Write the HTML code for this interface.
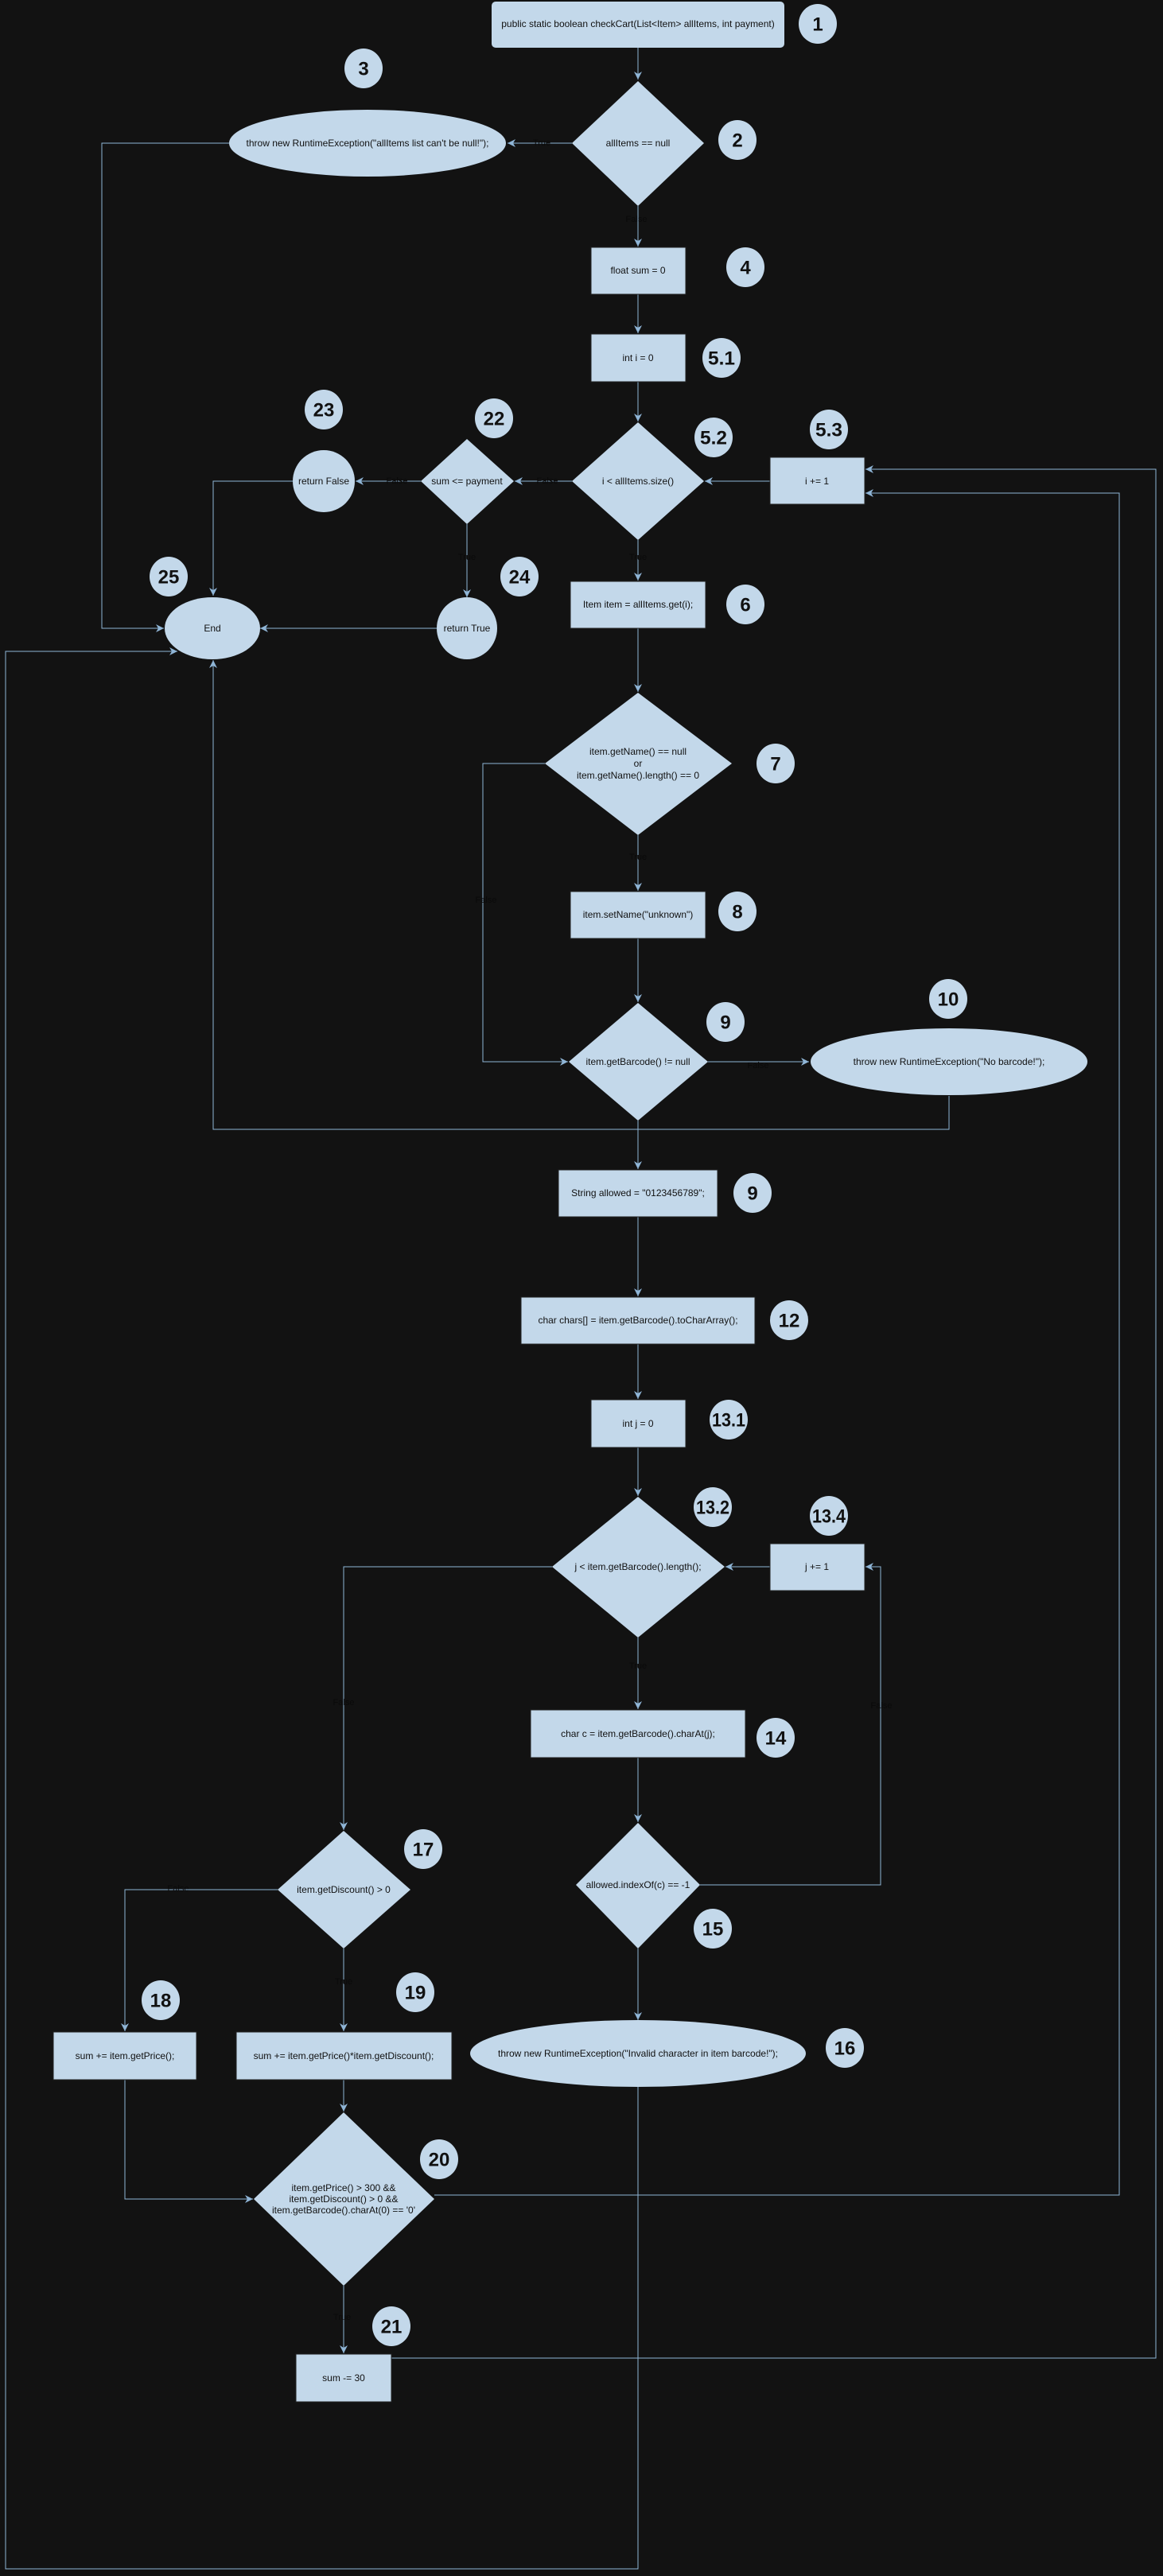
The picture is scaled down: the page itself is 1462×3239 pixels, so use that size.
<!DOCTYPE html>
<html><head><meta charset="utf-8"><style>
html,body{margin:0;padding:0;background:#121212;}
svg{display:block;}
text{font-family:"Liberation Sans",Arial,sans-serif;fill:#111;}
.t{font-size:12px;text-anchor:middle;dominant-baseline:central;}
.n{font-size:24px;font-weight:bold;text-anchor:middle;dominant-baseline:central;}
.l{font-size:11px;text-anchor:middle;dominant-baseline:central;fill:#0a0a0a;}
.s{fill:#c3d8ea;stroke:#222;stroke-width:1;}
.c{fill:#c3d8ea;}
.e{stroke:#8fb5d6;stroke-width:1;fill:none;marker-end:url(#a);}
</style></head><body>
<svg width="1462" height="3239" viewBox="0 0 1462 3239" xmlns="http://www.w3.org/2000/svg">
<defs><marker id="a" markerWidth="12" markerHeight="12" refX="10" refY="5" orient="auto" markerUnits="userSpaceOnUse"><path d="M0,0 L10,5 L0,10 L3,5 Z" fill="#8fb5d6"/></marker></defs>
<rect width="1462" height="3239" fill="#121212"/>

<!-- edges -->
<path class="e" d="M802,60 V100"/>
<path class="e" d="M719,180 H638"/>
<path class="e" d="M288,180 H128 V790 H206"/>
<path class="e" d="M802,259 V310"/>
<path class="e" d="M802,370 V419"/>
<path class="e" d="M802,480 V530"/>
<path class="e" d="M968,605 H886"/>
<path class="e" d="M719,605 H647"/>
<path class="e" d="M529,605 H447"/>
<path class="e" d="M368,605 H268 V749"/>
<path class="e" d="M587,659 V751"/>
<path class="e" d="M549,790 H327"/>
<path class="e" d="M802,679 V730"/>
<path class="e" d="M802,790 V870"/>
<path class="e" d="M802,1050 V1120"/>
<path class="e" d="M685,960 H607 V1335 H714"/>
<path class="e" d="M802,1180 V1260"/>
<path class="e" d="M890,1335 H1017"/>
<path class="e" d="M1193,1378 V1420 H268 V830"/>
<path class="e" d="M802,1409 V1470"/>
<path class="e" d="M802,1530 V1630"/>
<path class="e" d="M802,1690 V1759"/>
<path class="e" d="M802,1820 V1881"/>
<path class="e" d="M968,1970 H912"/>
<path class="e" d="M694,1970 H432 V2301"/>
<path class="e" d="M802,2059 V2149"/>
<path class="e" d="M802,2210 V2291"/>
<path class="e" d="M880,2370 H1107 V1970 H1088"/>
<path class="e" d="M802,2450 V2540"/>
<path class="e" d="M349,2376 H157 V2554"/>
<path class="e" d="M432,2450 V2554"/>
<path class="e" d="M432,2615 V2655"/>
<path class="e" d="M157,2615 V2765 H318"/>
<path class="e" d="M546,2760 H1407 V620 H1088"/>
<path class="e" d="M432,2874 V2959"/>
<path class="e" d="M492,2965 H1453 V590 H1088"/>
<path class="e" d="M802,2624 V3230 H7 V819 H223"/>

<!-- labels -->
<text class="l" x="681" y="180">True</text>
<text class="l" x="800" y="276">False</text>
<text class="l" x="688" y="605">False</text>
<text class="l" x="499" y="605">False</text>
<text class="l" x="587" y="701">True</text>
<text class="l" x="802" y="701">True</text>
<text class="l" x="802" y="1078">True</text>
<text class="l" x="611" y="1132">False</text>
<text class="l" x="953" y="1340">False</text>
<text class="l" x="802" y="2095">True</text>
<text class="l" x="432" y="2141">False</text>
<text class="l" x="1108" y="2145">False</text>
<text class="l" x="224" y="2375">False</text>
<text class="l" x="432" y="2492">True</text>
<text class="l" x="430" y="2914">True</text>

<!-- nodes -->
<rect class="c" x="618" y="2" width="368" height="58" rx="5"/>
<text class="t" x="802" y="30">public static boolean checkCart(List&lt;Item&gt; allItems, int payment)</text>

<polygon class="c" points="802,102 885,180 802,259 719,180"/>
<text class="t" x="802" y="180">allItems == null</text>
<ellipse class="c" cx="462" cy="180" rx="174" ry="42"/>
<text class="t" x="462" y="180">throw new RuntimeException("allItems list can't be null!");</text>

<rect class="s" x="743" y="311" width="119" height="59"/>
<text class="t" x="802" y="340">float sum = 0</text>
<rect class="s" x="743" y="420" width="119" height="60"/>
<text class="t" x="802" y="450">int i = 0</text>

<polygon class="c" points="802,531 885,605 802,679 719,605"/>
<text class="t" x="802" y="605">i &lt; allItems.size()</text>
<rect class="s" x="968" y="575" width="119" height="59"/>
<text class="t" x="1027" y="605">i += 1</text>
<polygon class="c" points="587,552 646,605 587,659 529,605"/>
<text class="t" x="587" y="605">sum &lt;= payment</text>
<ellipse class="c" cx="407" cy="605" rx="39" ry="39"/>
<text class="t" x="407" y="605">return False</text>
<ellipse class="c" cx="267" cy="790" rx="60" ry="39"/>
<text class="t" x="267" y="790">End</text>
<ellipse class="c" cx="587" cy="790" rx="38" ry="39"/>
<text class="t" x="587" y="790">return True</text>

<rect class="s" x="717" y="731" width="170" height="59"/>
<text class="t" x="802" y="760">Item item = allItems.get(i);</text>

<polygon class="c" points="802,871 920,960 802,1050 685,960"/>
<text class="t" x="802" y="945">item.getName() == null</text>
<text class="t" x="802" y="960">or</text>
<text class="t" x="802" y="975">item.getName().length() == 0</text>

<rect class="s" x="717" y="1121" width="170" height="59"/>
<text class="t" x="802" y="1150">item.setName("unknown")</text>

<polygon class="c" points="802,1261 890,1335 802,1409 715,1335"/>
<text class="t" x="802" y="1335">item.getBarcode() != null</text>
<ellipse class="c" cx="1193" cy="1335" rx="174" ry="42"/>
<text class="t" x="1193" y="1335">throw new RuntimeException("No barcode!");</text>

<rect class="s" x="702" y="1471" width="200" height="59"/>
<text class="t" x="802" y="1500">String allowed = "0123456789";</text>
<rect class="s" x="655" y="1631" width="294" height="59"/>
<text class="t" x="802" y="1660">char chars[] = item.getBarcode().toCharArray();</text>
<rect class="s" x="743" y="1760" width="119" height="60"/>
<text class="t" x="802" y="1790">int j = 0</text>

<polygon class="c" points="802,1882 911,1970 802,2059 694,1970"/>
<text class="t" x="802" y="1970">j &lt; item.getBarcode().length();</text>
<rect class="s" x="968" y="1941" width="119" height="59"/>
<text class="t" x="1027" y="1970">j += 1</text>

<rect class="s" x="667" y="2150" width="270" height="60"/>
<text class="t" x="802" y="2180">char c = item.getBarcode().charAt(j);</text>

<polygon class="c" points="802,2292 880,2370 802,2450 724,2370"/>
<text class="t" x="802" y="2370">allowed.indexOf(c) == -1</text>

<polygon class="c" points="432,2302 516,2376 432,2450 349,2376"/>
<text class="t" x="432" y="2376">item.getDiscount() &gt; 0</text>

<rect class="s" x="67" y="2555" width="180" height="60"/>
<text class="t" x="157" y="2585">sum += item.getPrice();</text>
<rect class="s" x="297" y="2555" width="271" height="60"/>
<text class="t" x="432" y="2585">sum += item.getPrice()*item.getDiscount();</text>
<ellipse class="c" cx="802" cy="2582" rx="211" ry="42"/>
<text class="t" x="802" y="2582">throw new RuntimeException("Invalid character in item barcode!");</text>

<polygon class="c" points="432,2656 546,2765 432,2874 319,2765"/>
<text class="t" x="432" y="2751">item.getPrice() &gt; 300 &amp;&amp;</text>
<text class="t" x="432" y="2765">item.getDiscount() &gt; 0 &amp;&amp;</text>
<text class="t" x="432" y="2779">item.getBarcode().charAt(0) == '0'</text>

<rect class="s" x="372" y="2960" width="120" height="60"/>
<text class="t" x="432" y="2990">sum -= 30</text>

<!-- number circles -->
<g>
<ellipse class="c" cx="1028" cy="30" rx="24" ry="25"/><text class="n" x="1028" y="31">1</text>
<ellipse class="c" cx="927" cy="176" rx="24" ry="25"/><text class="n" x="927" y="177">2</text>
<ellipse class="c" cx="457" cy="86" rx="24" ry="25"/><text class="n" x="457" y="87">3</text>
<ellipse class="c" cx="937" cy="336" rx="24" ry="25"/><text class="n" x="937" y="337">4</text>
<ellipse class="c" cx="907" cy="450" rx="24" ry="25"/><text class="n" x="907" y="451" textLength="34" lengthAdjust="spacingAndGlyphs">5.1</text>
<ellipse class="c" cx="897" cy="550" rx="24" ry="25"/><text class="n" x="897" y="551" textLength="34" lengthAdjust="spacingAndGlyphs">5.2</text>
<ellipse class="c" cx="1042" cy="540" rx="24" ry="25"/><text class="n" x="1042" y="541" textLength="34" lengthAdjust="spacingAndGlyphs">5.3</text>
<ellipse class="c" cx="621" cy="526" rx="24" ry="25"/><text class="n" x="621" y="527">22</text>
<ellipse class="c" cx="407" cy="515" rx="24" ry="25"/><text class="n" x="407" y="516">23</text>
<ellipse class="c" cx="212" cy="725" rx="24" ry="25"/><text class="n" x="212" y="726">25</text>
<ellipse class="c" cx="653" cy="725" rx="24" ry="25"/><text class="n" x="653" y="726">24</text>
<ellipse class="c" cx="937" cy="760" rx="24" ry="25"/><text class="n" x="937" y="761">6</text>
<ellipse class="c" cx="975" cy="960" rx="24" ry="25"/><text class="n" x="975" y="961">7</text>
<ellipse class="c" cx="927" cy="1146" rx="24" ry="25"/><text class="n" x="927" y="1147">8</text>
<ellipse class="c" cx="912" cy="1285" rx="24" ry="25"/><text class="n" x="912" y="1286">9</text>
<ellipse class="c" cx="1192" cy="1256" rx="24" ry="25"/><text class="n" x="1192" y="1257">10</text>
<ellipse class="c" cx="946" cy="1500" rx="24" ry="25"/><text class="n" x="946" y="1501">9</text>
<ellipse class="c" cx="992" cy="1660" rx="24" ry="25"/><text class="n" x="992" y="1661">12</text>
<ellipse class="c" cx="916" cy="1785" rx="24" ry="25"/><text class="n" x="916" y="1786" textLength="42" lengthAdjust="spacingAndGlyphs">13.1</text>
<ellipse class="c" cx="896" cy="1895" rx="24" ry="25"/><text class="n" x="896" y="1896" textLength="42" lengthAdjust="spacingAndGlyphs">13.2</text>
<ellipse class="c" cx="1042" cy="1906" rx="24" ry="25"/><text class="n" x="1042" y="1907" textLength="42" lengthAdjust="spacingAndGlyphs">13.4</text>
<ellipse class="c" cx="975" cy="2185" rx="24" ry="25"/><text class="n" x="975" y="2186">14</text>
<ellipse class="c" cx="896" cy="2425" rx="24" ry="25"/><text class="n" x="896" y="2426">15</text>
<ellipse class="c" cx="532" cy="2325" rx="24" ry="25"/><text class="n" x="532" y="2326">17</text>
<ellipse class="c" cx="202" cy="2515" rx="24" ry="25"/><text class="n" x="202" y="2516">18</text>
<ellipse class="c" cx="522" cy="2505" rx="24" ry="25"/><text class="n" x="522" y="2506">19</text>
<ellipse class="c" cx="1062" cy="2575" rx="24" ry="25"/><text class="n" x="1062" y="2576">16</text>
<ellipse class="c" cx="552" cy="2715" rx="24" ry="25"/><text class="n" x="552" y="2716">20</text>
<ellipse class="c" cx="492" cy="2925" rx="24" ry="25"/><text class="n" x="492" y="2926">21</text>
</g>
</svg>
</body></html>
